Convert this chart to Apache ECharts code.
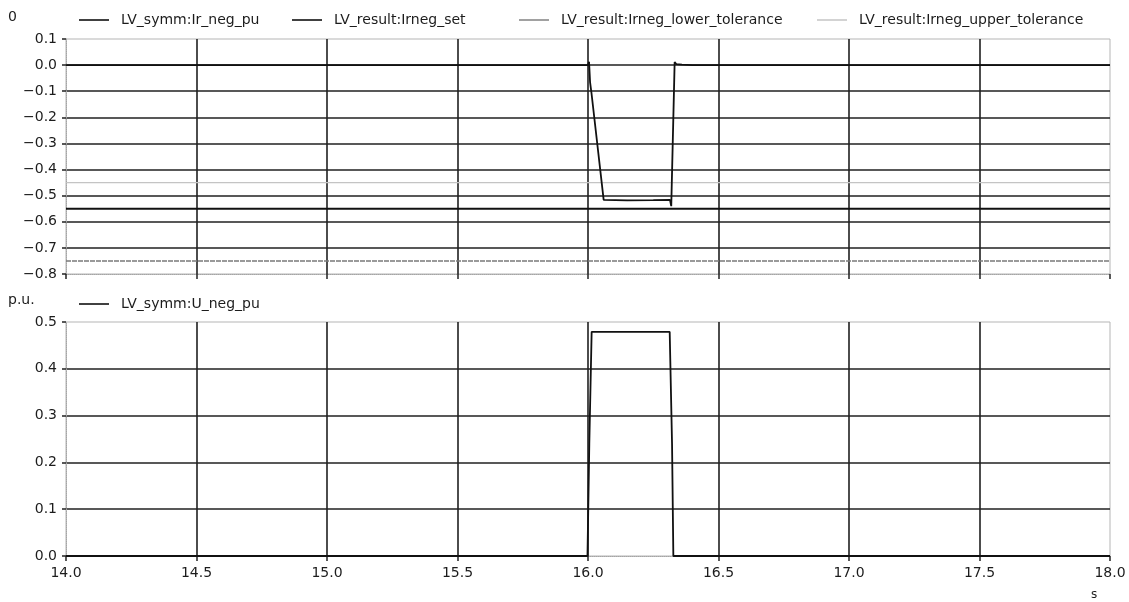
<!DOCTYPE html>
<html>
<head>
<meta charset="utf-8">
<script src="https://cdn.jsdelivr.net/npm/echarts@6/dist/echarts.min.js"></script>
<style>
html,body{margin:0;padding:0;background:#fff;}
#c{width:1129px;height:602px;}
</style>
</head>
<body>
<div id="c"></div>
<script>
// ---- data ----
const xTicks = [14.0, 14.5, 15.0, 15.5, 16.0, 16.5, 17.0, 17.5, 18.0];
const topYTicks = [0.1, 0.0, -0.1, -0.2, -0.3, -0.4, -0.5, -0.6, -0.7, -0.8];
const botYTicks = [0.0, 0.1, 0.2, 0.3, 0.4, 0.5];

const seriesNamesTop = ['LV_symm:Ir_neg_pu', 'LV_result:Irneg_set', 'LV_result:Irneg_lower_tolerance', 'LV_result:Irneg_upper_tolerance'];
const seriesNameBot = 'LV_symm:U_neg_pu';

// LV_symm:Ir_neg_pu  [time s, value p.u.]
const irNegPu = [
  [14.0, 0.0], [16.0, 0.0], [16.004, 0.013], [16.008, -0.066], [16.013, -0.104],
  [16.06, -0.516], [16.15, -0.518], [16.25, -0.517], [16.314, -0.516],
  [16.319, -0.54], [16.332, 0.012], [16.338, 0.004], [16.36, 0.002],
  [16.4, 0.0], [18.0, 0.0]
];
// constant references
const irnegSet = [[14.0, -0.55], [18.0, -0.55]];
const irnegLowerTol = [[14.0, -0.75], [18.0, -0.75]];
const irnegUpperTol = [[14.0, -0.45], [18.0, -0.45]];

// LV_symm:U_neg_pu
const uNegPu = [
  [14.0, 0.0], [15.998, 0.0], [16.005, 0.24], [16.014, 0.479],
  [16.15, 0.479], [16.313, 0.479], [16.322, 0.24], [16.327, 0.0], [18.0, 0.0]
];

// ---- chart ----
const FONT = 'DejaVu Sans';
const TXT = '#1c1c1c';
const fmt = v => {
  const s = (Math.abs(v) < 1e-9 ? 0 : v).toFixed(1);
  return s.replace('-', '\u2212');
};

const chart = echarts.init(document.getElementById('c'), null, {renderer: 'canvas'});

const gridLine = {show: true, showMinLine: false, showMaxLine: false, lineStyle: {color: '#202020', width: 1.6}};
const axisLn = {show: true, onZero: false, lineStyle: {color: '#a5a5a5', width: 1, type: 'dotted'}};

function legendFor(name, left, top, color) {
  return {
    data: [name], left: left, top: top, orient: 'horizontal',
    icon: 'rect', itemWidth: 30, itemHeight: 1.6,
    textStyle: {fontFamily: FONT, fontSize: 14, color: TXT, padding: [0, 0, 0, 7]},
    itemStyle: {color: color}
  };
}

const option = {
  backgroundColor: '#fff',
  animation: false,
  textStyle: {fontFamily: FONT},
  grid: [
    {left: 66, right: 19, top: 39, height: 235, show: true, borderColor: '#b5b5b5', borderWidth: 1},
    {left: 66, right: 19, top: 322, height: 234, show: true, borderColor: '#b5b5b5', borderWidth: 1}
  ],
  legend: [
    legendFor(seriesNamesTop[0], 74, 8, '#111'),
    legendFor(seriesNamesTop[1], 287, 8, '#111'),
    legendFor(seriesNamesTop[2], 514, 8, '#8a8a8a'),
    legendFor(seriesNamesTop[3], 812, 8, '#c8c8c8'),
    legendFor(seriesNameBot, 74, 292, '#111')
  ],
  graphic: [
    {type: 'text', left: 8, top: 10, style: {text: '0', font: '14px "DejaVu Sans"', fill: TXT}},
    {type: 'text', left: 8, top: 293, style: {text: 'p.u.', font: '14px "DejaVu Sans"', fill: TXT}},
    {type: 'text', left: 1091, top: 589, style: {text: 's', font: '12px "DejaVu Sans"', fill: TXT}}
  ],
  xAxis: [
    {type: 'value', gridIndex: 0, min: xTicks[0], max: xTicks[xTicks.length - 1], interval: 0.5,
     axisLine: axisLn, axisTick: {show: true, length: 5, inside: false, lineStyle: {color: '#222', width: 1.5}},
     axisLabel: {show: false}, splitLine: gridLine},
    {type: 'value', gridIndex: 1, min: xTicks[0], max: xTicks[xTicks.length - 1], interval: 0.5,
     axisLine: axisLn, axisTick: {show: true, length: 5, lineStyle: {color: '#222', width: 1.5}},
     axisLabel: {show: true, fontFamily: FONT, fontSize: 14, color: TXT, margin: 10, formatter: fmt},
     splitLine: gridLine}
  ],
  yAxis: [
    {type: 'value', gridIndex: 0, min: topYTicks[topYTicks.length - 1], max: topYTicks[0], interval: 0.1,
     axisLine: axisLn, axisTick: {show: true, length: 4, lineStyle: {color: '#222', width: 1.5}},
     axisLabel: {fontFamily: FONT, fontSize: 14, color: TXT, margin: 9, formatter: fmt},
     splitLine: gridLine},
    {type: 'value', gridIndex: 1, min: botYTicks[0], max: botYTicks[botYTicks.length - 1], interval: 0.1,
     axisLine: axisLn, axisTick: {show: true, length: 4, lineStyle: {color: '#222', width: 1.5}},
     axisLabel: {fontFamily: FONT, fontSize: 14, color: TXT, margin: 9, formatter: fmt},
     splitLine: gridLine}
  ],
  series: [
    {name: seriesNamesTop[3], type: 'line', xAxisIndex: 0, yAxisIndex: 0, data: irnegUpperTol,
     showSymbol: false, lineStyle: {color: '#c4c4c4', width: 1.4}, itemStyle: {color: '#c8c8c8'}, z: 3},
    {name: seriesNamesTop[2], type: 'line', xAxisIndex: 0, yAxisIndex: 0, data: irnegLowerTol,
     showSymbol: false, lineStyle: {color: '#7a7a7a', width: 1.4, type: [5, 1]}, itemStyle: {color: '#8a8a8a'}, z: 3},
    {name: seriesNamesTop[1], type: 'line', xAxisIndex: 0, yAxisIndex: 0, data: irnegSet,
     showSymbol: false, lineStyle: {color: '#111', width: 2}, itemStyle: {color: '#111'}, z: 4},
    {name: seriesNamesTop[0], type: 'line', xAxisIndex: 0, yAxisIndex: 0, data: irNegPu,
     showSymbol: false, lineStyle: {color: '#111', width: 1.8}, itemStyle: {color: '#111'}, z: 5},
    {name: seriesNameBot, type: 'line', xAxisIndex: 1, yAxisIndex: 1, data: uNegPu,
     showSymbol: false, lineStyle: {color: '#111', width: 1.8}, itemStyle: {color: '#111'}, z: 5}
  ]
};
chart.setOption(option);
</script>
</body>
</html>
